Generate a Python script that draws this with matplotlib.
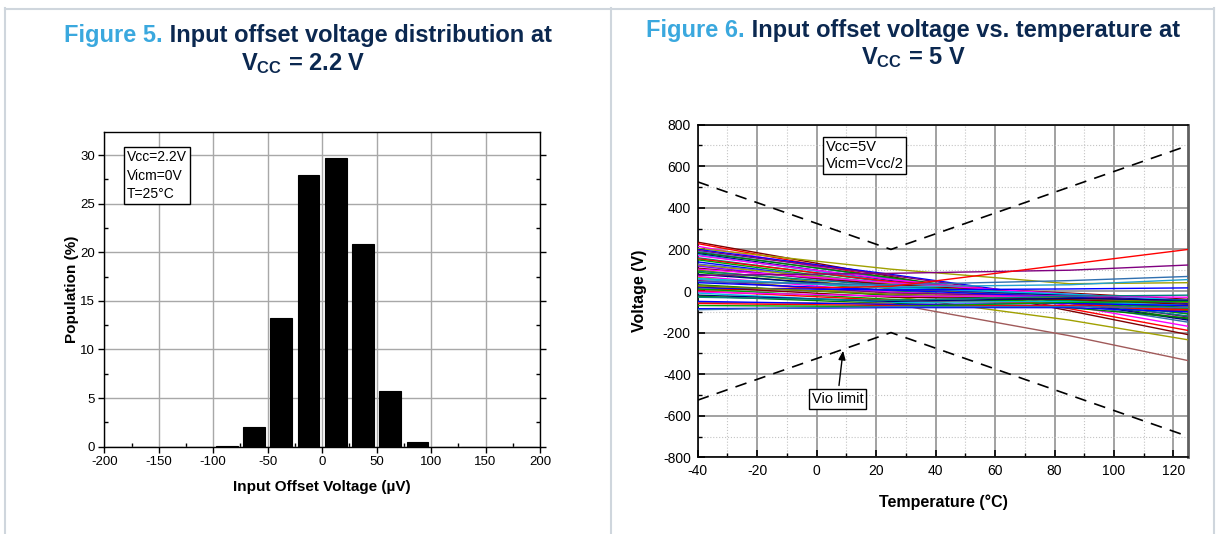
import matplotlib
matplotlib.use('Agg')
import matplotlib.pyplot as plt
from matplotlib.lines import Line2D
from matplotlib.ticker import MultipleLocator

plt.rcParams['font.family'] = ['Liberation Sans', 'DejaVu Sans']
plt.rcParams['mathtext.fontset'] = 'custom'
plt.rcParams['mathtext.rm'] = 'Liberation Sans:bold'
plt.rcParams['axes.unicode_minus'] = False

# ---- Figure 5: offset voltage distribution (bins of 25 uV)
bin_centers = [-187.5, -162.5, -137.5, -112.5, -87.5, -62.5, -37.5, -12.5,
               12.5, 37.5, 62.5, 87.5, 112.5, 137.5, 162.5, 187.5]
population = [0, 0, 0, 0, 0.1, 2.0, 13.2, 27.9,
              29.7, 20.9, 5.7, 0.5, 0, 0, 0, 0]

# ---- Figure 6: Vio vs temperature, one value per part at each temperature
temps = [-40, 25, 85, 125]
vio_m40 = [235, 228, 215, 205, 200, 195, 190, 185, 180, 175, 170, 160, 155, 150, 140, 130, 125,
           120, 110, 105, 100, 95, 90, 80, 75, 70, 65, 60, 55, 50, 45, 40, 30, 5, 20, 15, 10,
           25, 0, -5, -10, -20, -25, -30, -55, -50, -60, -70, -85, -90]
vio_25 = [70, 60, 55, 105, 80, 75, 60, 65, 50, 45, 55, 40, 45, 30, 25, 35, 35,
          20, 30, 40, 10, 25, 0, 15, 85, -5, -25, 15, 20, -10, 30, 5, -20, 22, -30, 5, -40,
          -15, -45, -25, -55, -50, -60, -45, -60, -65, -70, -75, -80, -75]
vio_85 = [-95, -85, -70, 35, -40, -45, -60, -50, -55, -40, -30, -50, -20, -45, -30, -20, -30,
          -35, -10, -15, -30, -25, -40, -20, 100, -35, -140, -15, 30, -25, 50, -30, -45, 129, -40, 10, -50,
          -35, -60, -25, -50, -35, -80, -25, -215, -60, -70, -55, -80, -75]
vio_125 = [-210, -190, -170, 40, -110, -125, -150, -135, -140, -100, -95, -120, -70, -110, -90, -60, -85,
           -80, -40, -45, -75, -70, -95, -50, 125, -80, -235, -45, 55, -55, 70, -60, -80, 200, -65, 15, -85,
           -55, -100, -30, -70, -45, -130, -20, -335, -70, -90, -50, -100, -80]
line_colors = ['#800000', '#ff0000', '#ff00ff', '#a0a000', '#0000ff', '#800080', '#3070b0', '#008000',
               '#000080', '#00b0d0', '#ff00ff', '#008080', '#ff0000', '#00a000', '#0000ff', '#4060e0',
               '#a0a000', '#8000ff', '#800000', '#ff00ff', '#808000', '#008080', '#00a000', '#000080',
               '#800080', '#ff00ff', '#a0a000', '#00c0e0', '#20a0d0', '#800080', '#3070b0', '#0000ff',
               '#008000', '#ff0000', '#800000', '#0000ff', '#00a000', '#808000', '#ff0000', '#ff00ff',
               '#00c0e0', '#000080', '#008000', '#008080', '#a05a5a', '#0000ff', '#ff0000', '#00a000',
               '#0000ff', '#3070b0']
limit_temps = [-40, 25, 125]
limit_upper = [525, 200, 700]
limit_lower = [-525, -200, -700]

W, H = 1221, 534
fig = plt.figure(figsize=(W / 100, H / 100), dpi=100)


def px_rect(l, t, r, b):
    return [l / W, 1 - b / H, (r - l) / W, (b - t) / H]


def fig_line(xs, ys):
    fig.add_artist(Line2D([x / W for x in xs], [1 - y / H for y in ys],
                          transform=fig.transFigure, color='#cfd6dd', lw=1.5))


# panel borders
fig_line([5, 5], [8, H])
fig_line([5, 1214], [8.5, 8.5])
fig_line([610.5, 610.5], [8, H])
fig_line([1214, 1214], [8, H])

BLUE = '#3aa8de'
NAVY = '#0b2850'


def title_line(xc, yc, parts, size):
    texts = [fig.text(0, 1 - yc / H, s, color=c, fontsize=size, fontweight='bold', va='center')
             for s, c in parts]
    r = fig.canvas.get_renderer()
    widths = [t.get_window_extent(r).width for t in texts]
    x = xc - sum(widths) / 2
    for t, w in zip(texts, widths):
        t.set_x(x / W)
        x += w


title_line(308, 36, [('Figure 5.', BLUE), (' Input offset voltage distribution at', NAVY)], 17)
title_line(303, 64, [(r'$\mathrm{V_{CC}}$ = 2.2 V', NAVY)], 17)
title_line(913, 30, [('Figure 6.', BLUE), (' Input offset voltage vs. temperature at', NAVY)], 17)
title_line(913, 58, [(r'$\mathrm{V_{CC}}$ = 5 V', NAVY)], 17)

# ---------------- Figure 5 ----------------
ax1 = fig.add_axes(px_rect(104.3, 131.7, 540, 446.7))
ax1.bar(bin_centers, population, width=20, color='black', edgecolor='black', lw=0.8, zorder=3)
ax1.set_xlim(-200, 200)
ax1.set_ylim(0, 32.4)
ax1.xaxis.set_major_locator(MultipleLocator(50))
ax1.xaxis.set_minor_locator(MultipleLocator(25))
ax1.yaxis.set_major_locator(MultipleLocator(5))
ax1.yaxis.set_minor_locator(MultipleLocator(2.5))
ax1.grid(True, which='major', color='#a8a8a8', lw=1, zorder=0)
ax1.set_axisbelow(True)
ax1.tick_params(which='major', direction='out', length=4, width=1, labelsize=9.5, pad=2.5)
ax1.tick_params(which='minor', direction='in', length=3, width=1)
ax1.tick_params(axis='y', right=True, which='both')
for s in ax1.spines.values():
    s.set_linewidth(1)
ax1.set_xlabel('Input Offset Voltage (µV)', fontsize=11, fontweight='bold')
ax1.set_ylabel('Population (%)', fontsize=11, fontweight='bold')
ax1.xaxis.set_label_coords(0.5, -0.105)
ax1.yaxis.set_label_coords(-0.058, 0.5)
ax1.text(-179, 30.5, 'Vcc=2.2V\nVicm=0V\nT=25°C', fontsize=10, va='top', ha='left',
         linespacing=1.4, zorder=5,
         bbox=dict(boxstyle='square,pad=0.2', fc='white', ec='black', lw=1))

# ---------------- Figure 6 ----------------
ax2 = fig.add_axes(px_rect(697.7, 124.7, 1188.3, 457.3))
for i, c in enumerate(line_colors):
    ax2.plot(temps, [vio_m40[i], vio_25[i], vio_85[i], vio_125[i]], color=c, lw=1, zorder=3)
ax2.plot(limit_temps, limit_upper, color='black', lw=1.2, ls=(0, (7, 5)), zorder=4)
ax2.plot(limit_temps, limit_lower, color='black', lw=1.2, ls=(0, (7, 5)), zorder=4)
ax2.set_xlim(-40, 125)
ax2.set_ylim(-800, 800)
ax2.xaxis.set_major_locator(MultipleLocator(20))
ax2.xaxis.set_minor_locator(MultipleLocator(10))
ax2.yaxis.set_major_locator(MultipleLocator(200))
ax2.yaxis.set_minor_locator(MultipleLocator(100))
ax2.grid(True, which='major', color='#9a9a9a', lw=1.3, zorder=0)
ax2.grid(True, which='minor', color='#c4c4c4', lw=0.8, ls=':', zorder=0)
ax2.set_axisbelow(True)
ax2.tick_params(which='major', direction='in', length=5, width=1.2, labelsize=10, pad=5)
ax2.tick_params(which='minor', direction='in', length=3, width=1)
for s in ax2.spines.values():
    s.set_linewidth(1.2)
ax2.spines['right'].set_color('#606060')
ax2.spines['right'].set_linewidth(2)
ax2.set_xlabel('Temperature (°C)', fontsize=11.5, fontweight='bold')
ax2.set_ylabel('Voltage (V)', fontsize=11.5, fontweight='bold')
ax2.xaxis.set_label_coords(0.5, -0.113)
ax2.yaxis.set_label_coords(-0.103, 0.5)
ax2.text(3, 728, 'Vcc=5V\nVicm=Vcc/2', fontsize=10.5, va='top', ha='left', linespacing=1.3,
         zorder=5, bbox=dict(boxstyle='square,pad=0.2', fc='white', ec='black', lw=1))
ax2.annotate('Vio limit', xy=(9, -274), xytext=(7, -518), fontsize=10.5, ha='center', va='center',
             zorder=5, bbox=dict(boxstyle='square,pad=0.2', fc='white', ec='black', lw=1),
             arrowprops=dict(arrowstyle='-|>,head_length=0.5,head_width=0.2', color='black', lw=1))

fig.savefig('out.png', dpi=100)
